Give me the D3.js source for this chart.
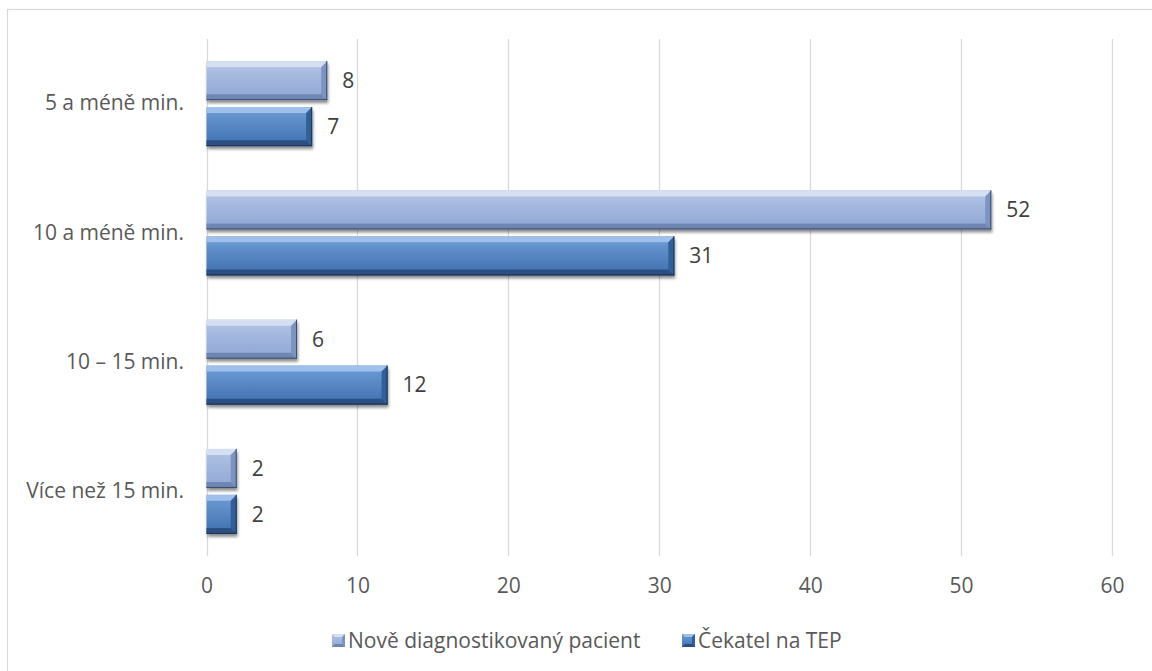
<!DOCTYPE html>
<html><head><meta charset="utf-8">
<script src="https://cdn.jsdelivr.net/npm/d3@7"></script>
<style>body{margin:0;background:#fff}svg{display:block}</style>
</head><body>
<script>
const categories = ["5 a méně min.", "10 a méně min.", "10 – 15 min.", "Více než 15 min."];
const seriesNames = ["Nově diagnostikovaný pacient", "Čekatel na TEP"];
const seriesNove = [8, 52, 6, 2];
const seriesCekatel = [7, 31, 12, 2];
const xTicks = [0, 10, 20, 30, 40, 50, 60];

const W = 1152, H = 671;
const FONT = "'Open Sans', sans-serif";
const FS = 21;
const TXT = "#595959";
const svg = d3.select("body").append("svg").attr("width", W).attr("height", H);
const defs = svg.append("defs");

const pal = [
  {main0:"#b3c5e6", main1:"#8ea6d4", top:"#d4dff2", bot:"#6f86b3", side:"#7d93c0", edge:"#3a4a66"},
  {main0:"#6f9dd6", main1:"#3f6faf", top:"#9fc0ea", bot:"#2b4f82", side:"#335f98", edge:"#1f3350"}
];
pal.forEach((p,i)=>{
  const g = defs.append("linearGradient").attr("id","g"+i).attr("x1",0).attr("y1",0).attr("x2",0).attr("y2",1);
  g.append("stop").attr("offset","0%").attr("stop-color",p.main0);
  g.append("stop").attr("offset","100%").attr("stop-color",p.main1);
});
const f = defs.append("filter").attr("id","sh").attr("x","-10%").attr("y","-20%").attr("width","130%").attr("height","160%");
f.append("feGaussianBlur").attr("in","SourceAlpha").attr("stdDeviation",1.6);
f.append("feOffset").attr("dx",1).attr("dy",2.5).attr("result","b");
f.append("feComponentTransfer").append("feFuncA").attr("type","linear").attr("slope",0.45);
const fm = f.append("feMerge"); fm.append("feMergeNode"); fm.append("feMergeNode").attr("in","SourceGraphic");

// frame
svg.append("rect").attr("x",7.5).attr("y",9.5).attr("width",W).attr("height",H).attr("fill","none").attr("stroke","#d9d9d9").attr("stroke-width",1.2);

const x = d3.scaleLinear().domain([0,60]).range([206.5,1112]);
const y = d3.scaleBand().domain(categories).range([39,556]).padding(0);
const inner = d3.scaleBand().domain(seriesNames).range([0,85]).paddingInner(0.15);
const off = (y.bandwidth()-85)/2;

// grid
svg.append("g").selectAll("line").data(xTicks).join("line")
  .attr("x1",d=>Math.round(x(d))+0.5).attr("x2",d=>Math.round(x(d))+0.5)
  .attr("y1",39).attr("y2",556).attr("stroke","#d9d9d9").attr("stroke-width",1.3);

// x axis labels
const xa = svg.append("g").attr("transform","translate(0,556)")
  .call(d3.axisBottom(x).tickValues(xTicks).tickSize(0).tickPadding(22));
xa.select(".domain").remove();
xa.selectAll("text").attr("font-family",FONT).attr("font-size",FS).attr("fill",TXT);

// y axis labels
const ya = svg.append("g").attr("transform","translate(184,0)")
  .call(d3.axisLeft(y).tickSize(0).tickPadding(0));
ya.select(".domain").remove();
ya.selectAll("text").attr("font-family",FONT).attr("font-size",FS).attr("fill",TXT);

const data = [];
categories.forEach((c,i)=>{
  data.push({cat:c, s:seriesNames[0], v:seriesNove[i], k:0});
  data.push({cat:c, s:seriesNames[1], v:seriesCekatel[i], k:1});
});

const bv = 6;
const bars = svg.append("g").selectAll("g").data(data).join("g")
  .attr("transform",d=>`translate(${x(0)},${y(d.cat)+off+inner(d.s)})`);
bars.each(function(d){
  const g = d3.select(this);
  const w = x(d.v)-x(0), h = inner.bandwidth(), p = pal[d.k];
  const b = Math.min(bv, w/2);
  g.append("rect").attr("width",w).attr("height",h).attr("fill","url(#g"+d.k+")").attr("filter","url(#sh)");
  g.append("polygon").attr("points",`0,0 ${w},0 ${w-b},${b} 0,${b}`).attr("fill",p.top);
  g.append("polygon").attr("points",`${w},0 ${w},${h} ${w-b},${h-b} ${w-b},${b}`).attr("fill",p.side);
  g.append("polygon").attr("points",`0,${h} ${w},${h} ${w-b},${h-b} 0,${h-b}`).attr("fill",p.bot);
  g.append("line").attr("x1",0).attr("x2",w).attr("y1",h-0.5).attr("y2",h-0.5).attr("stroke",p.edge).attr("stroke-width",1);
  g.append("line").attr("x1",w-0.5).attr("x2",w-0.5).attr("y1",0).attr("y2",h).attr("stroke",p.edge).attr("stroke-width",1);
});
bars.append("text").attr("x",d=>x(d.v)-x(0)+15).attr("y",inner.bandwidth()/2).attr("dy","0.35em")
  .attr("font-family",FONT).attr("font-size",FS).attr("fill","#404040").text(d=>d.v);

// legend
const leg = svg.append("g");
const legX = [332, 682];
seriesNames.forEach((s,i)=>{
  const g = leg.append("g").attr("transform",`translate(${legX[i]},634)`);
  const p = pal[i];
  g.append("rect").attr("width",13).attr("height",13).attr("fill","url(#g"+i+")");
  g.append("polygon").attr("points","0,0 13,0 10,3 3,3").attr("fill",p.top);
  g.append("polygon").attr("points","13,0 13,13 10,10 10,3").attr("fill",p.side);
  g.append("polygon").attr("points","0,13 13,13 10,10 3,10").attr("fill",p.bot);
  g.append("text").attr("x",16).attr("y",6.5).attr("dy","0.35em").attr("font-family",FONT).attr("font-size",FS).attr("fill",TXT).text(s);
});
</script>
</body></html>
